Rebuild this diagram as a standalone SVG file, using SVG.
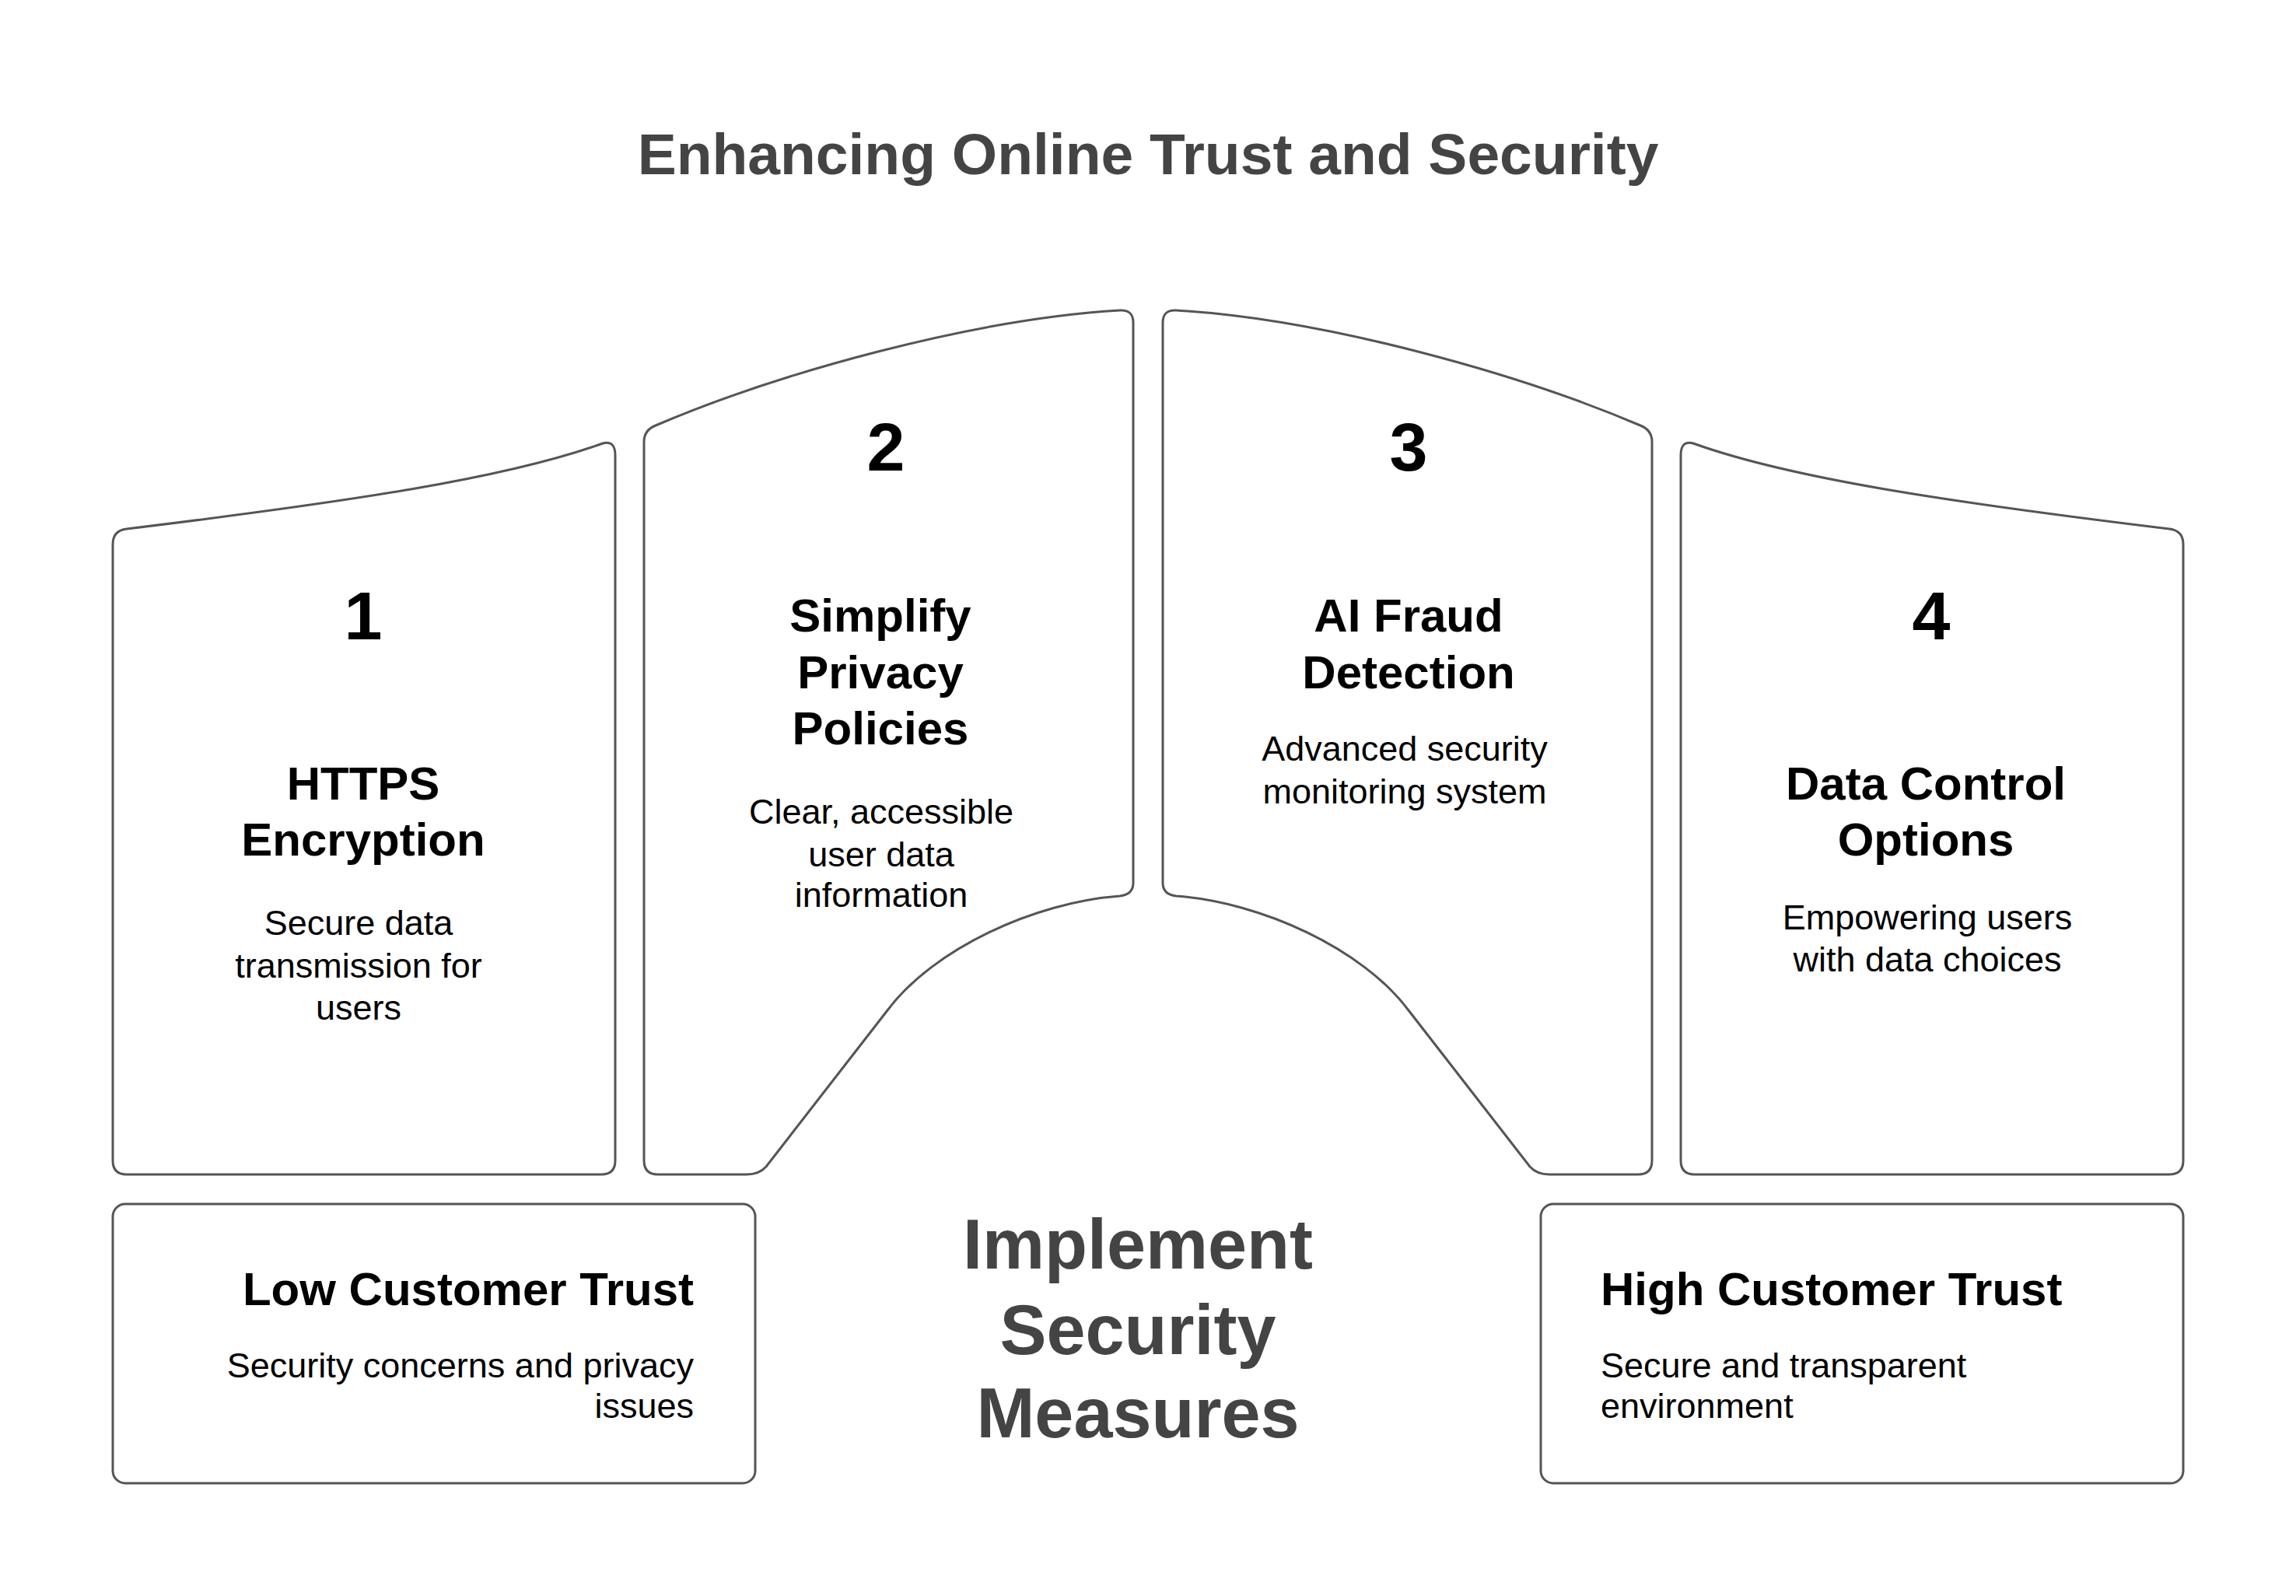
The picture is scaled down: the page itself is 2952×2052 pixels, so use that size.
<svg xmlns="http://www.w3.org/2000/svg" width="2952" height="2052" viewBox="0 0 2952 2052">
<style>
.s{fill:#fff;stroke:#555;stroke-width:3}
text{font-family:"Liberation Sans",Arial,sans-serif;dominant-baseline:central;text-anchor:middle;fill:#000}
.n{font-size:88px;font-weight:bold}
.h{font-size:60px;font-weight:bold}
.d{font-size:45px}
.c{font-size:90px;font-weight:bold;fill:#444}
</style>
<rect width="2952" height="2052" fill="#fff"/>
<text x="1476" y="198" style="font-size:75px;font-weight:bold;fill:#444">Enhancing Online Trust and Security</text>
<defs>
<path id="p1" d="M145,700 Q145,682 163,680 C450,645 650,615 775,570 Q791,566 791,585 L791,1492 Q791,1510 773,1510 L163,1510 Q145,1510 145,1492 Z"/>
<path id="p2" d="M828,568 Q828,553 843,547 C1000,480 1250,410 1440,399 Q1457,398 1457,415 L1457,1135 Q1457,1150 1440,1152 C1330,1160 1200,1220 1141,1299 L985,1500 Q976,1510 960,1510 L846,1510 Q828,1510 828,1492 Z"/>
</defs>
<g id="connectors"></g>
<g id="step1"><use href="#p1" class="s"/>
<text x="467" y="791" class="n">1</text>
<text x="467" y="1007" class="h">HTTPS</text><text x="467" y="1079" class="h">Encryption</text>
<text x="461" y="1186" class="d">Secure data</text><text x="461" y="1241" class="d">transmission for</text><text x="461" y="1295" class="d">users</text></g>
<g id="step2"><use href="#p2" class="s"/>
<text x="1139" y="574" class="n">2</text>
<text x="1132" y="791" class="h">Simplify</text><text x="1132" y="864" class="h">Privacy</text><text x="1132" y="936" class="h">Policies</text>
<text x="1133" y="1043" class="d">Clear, accessible</text><text x="1133" y="1098" class="d">user data</text><text x="1133" y="1150" class="d">information</text></g>
<g id="step3"><use href="#p2" class="s" transform="translate(2952,0) scale(-1,1)"/>
<text x="1811" y="574" class="n">3</text>
<text x="1811" y="791" class="h">AI Fraud</text><text x="1811" y="864" class="h">Detection</text>
<text x="1806" y="962" class="d">Advanced security</text><text x="1806" y="1017" class="d">monitoring system</text></g>
<g id="step4"><use href="#p1" class="s" transform="translate(2952,0) scale(-1,1)"/>
<text x="2483" y="791" class="n">4</text>
<text x="2476" y="1007" class="h">Data Control</text><text x="2476" y="1079" class="h">Options</text>
<text x="2478" y="1179" class="d">Empowering users</text><text x="2478" y="1233" class="d">with data choices</text></g>
<g id="low"><rect x="145" y="1548" width="826" height="359" rx="16" class="s"/>
<text x="892" y="1657" class="h" style="text-anchor:end">Low Customer Trust</text>
<text x="892" y="1755" class="d" style="text-anchor:end">Security concerns and privacy</text>
<text x="892" y="1807" class="d" style="text-anchor:end">issues</text></g>
<g id="high"><rect x="1981" y="1548" width="826" height="359" rx="16" class="s"/>
<text x="2058" y="1657" class="h" style="text-anchor:start">High Customer Trust</text>
<text x="2058" y="1755" class="d" style="text-anchor:start">Secure and transparent</text>
<text x="2058" y="1807" class="d" style="text-anchor:start">environment</text></g>
<g id="center"><text x="1463" y="1600" class="c">Implement</text><text x="1463" y="1710" class="c">Security</text><text x="1463" y="1817" class="c">Measures</text></g>
</svg>
